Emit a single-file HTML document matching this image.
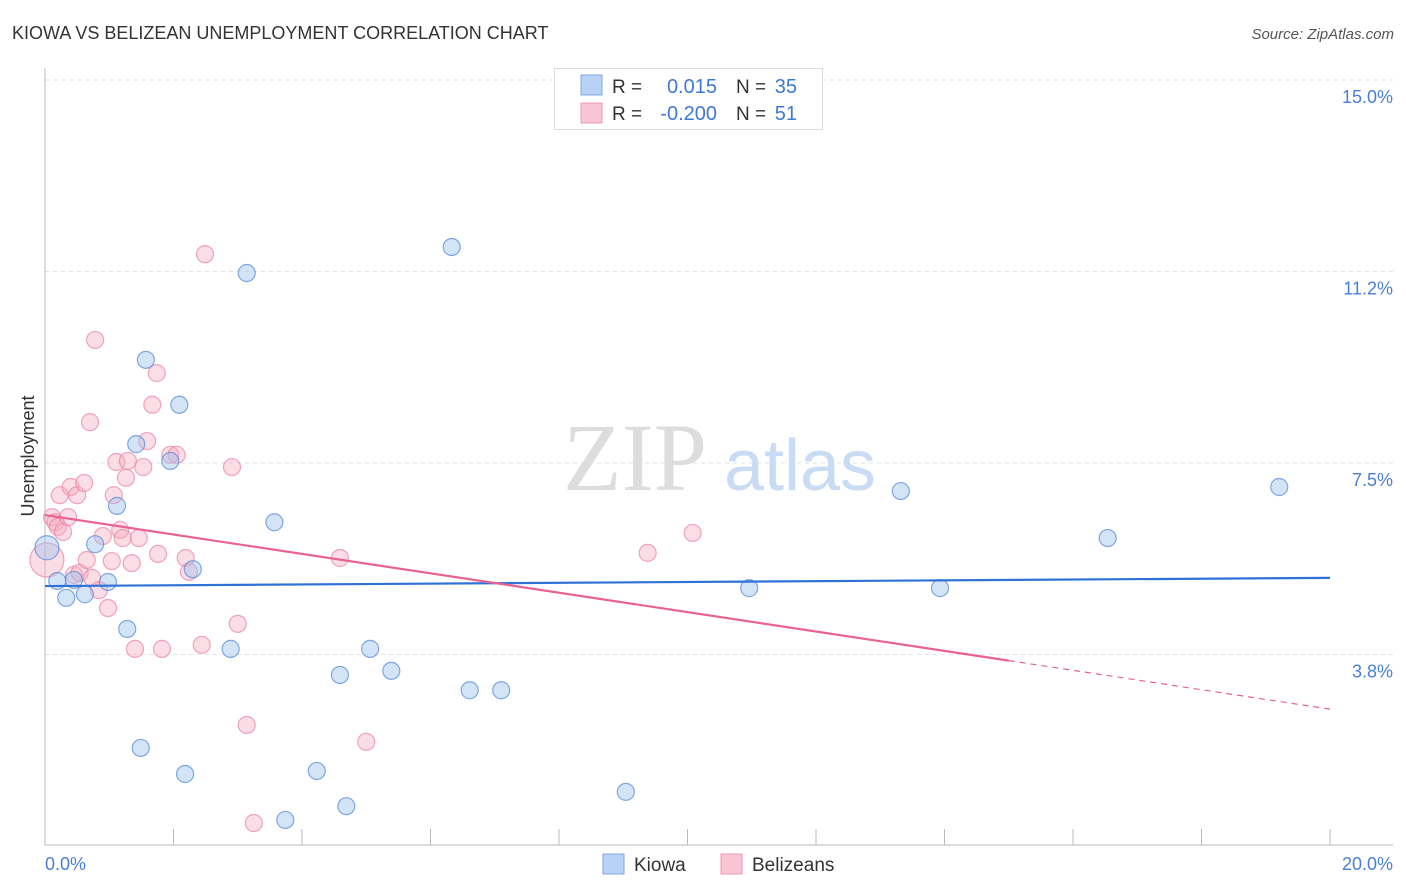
<!DOCTYPE html>
<html><head><meta charset="utf-8"><style>
body{margin:0;background:#fff;font-family:"Liberation Sans",sans-serif;}
svg{display:block}
</style></head><body>
<svg width="1406" height="892" xmlns="http://www.w3.org/2000/svg">
<text x="12" y="39" font-size="18" fill="#333">KIOWA VS BELIZEAN UNEMPLOYMENT CORRELATION CHART</text>
<text x="1394" y="39" font-size="15" fill="#555" font-style="italic" text-anchor="end">Source: ZipAtlas.com</text>
<g id="grid"></g>
<g>
<text x="635" y="490" font-family="Liberation Serif,serif" font-size="96" fill="#ddd" text-anchor="middle">ZIP</text>
<text x="800" y="490" font-size="72" fill="#c9dcf3" text-anchor="middle">atlas</text>
</g>
<line x1="45" y1="68" x2="45" y2="845" stroke="#bbb"/>
<line x1="45" y1="845" x2="1393" y2="845" stroke="#bbb"/>
<g id="xticks"></g>
<text x="45" y="870" font-size="18" fill="#4a7fd6">0.0%</text>
<text x="1393" y="870" font-size="18" fill="#4a7fd6" text-anchor="end">20.0%</text>
<text transform="translate(34,456) rotate(-90)" font-size="18" fill="#333" text-anchor="middle">Unemployment</text>
<g id="pts"></g>
<g id="trends"></g>
<g>
<rect x="554.5" y="68.5" width="268" height="61" fill="#fff" stroke="#ddd"/>
<rect x="581" y="75" width="21" height="20" fill="#b7d2f5" stroke="#7fa8e3"/>
<rect x="581" y="103" width="21" height="20" fill="#f9c5d4" stroke="#eb9ab3"/>
<text x="612" y="93" font-size="19" fill="#333">R =</text>
<text x="717" y="93" font-size="20" fill="#3f78d6" text-anchor="end">0.015</text>
<text x="736" y="93" font-size="19" fill="#333">N =</text>
<text x="797" y="93" font-size="20" fill="#3f78d6" text-anchor="end">35</text>
<text x="612" y="120" font-size="19" fill="#333">R =</text>
<text x="717" y="120" font-size="20" fill="#3f78d6" text-anchor="end">-0.200</text>
<text x="736" y="120" font-size="19" fill="#333">N =</text>
<text x="797" y="120" font-size="20" fill="#3f78d6" text-anchor="end">51</text>
</g>
<g>
<rect x="603" y="854" width="21" height="20" fill="#b7d2f5" stroke="#7fa8e3"/>
<text x="634" y="871" font-size="19" fill="#333">Kiowa</text>
<rect x="721" y="854" width="21" height="20" fill="#f9c5d4" stroke="#eb9ab3"/>
<text x="752" y="871" font-size="19" fill="#333">Belizeans</text>
</g>
</svg>
<script>
const yTicks=[3.75,7.5,11.25,15];
const yTickLabels=["3.8%","7.5%","11.2%","15.0%"];
const kiowaX=[0.03,0.19,0.33,0.45,0.62,0.78,0.98,1.12,1.28,1.42,1.49,1.57,1.95,2.09,2.18,2.30,2.89,3.14,3.57,3.74,4.23,4.59,4.69,5.06,5.39,6.33,6.61,7.10,9.04,10.96,13.32,13.93,16.54,19.21];
const kiowaY=[5.84,5.19,4.86,5.21,4.93,5.91,5.17,6.66,4.25,7.87,1.92,9.52,7.54,8.64,1.41,5.42,3.86,11.22,6.34,0.51,1.47,3.35,0.78,3.86,3.43,11.73,3.05,3.05,1.06,5.05,6.95,5.05,6.03,7.03];
const belX=[0.03,0.11,0.16,0.20,0.23,0.28,0.36,0.40,0.45,0.50,0.54,0.61,0.65,0.70,0.73,0.78,0.84,0.90,0.98,1.04,1.07,1.11,1.17,1.21,1.26,1.29,1.35,1.40,1.46,1.53,1.59,1.67,1.74,1.76,1.82,1.95,2.05,2.19,2.24,2.44,2.49,2.91,3.00,3.14,3.25,4.59,5.00,9.38,10.08];
const belY=[5.60,6.44,6.34,6.25,6.87,6.15,6.44,7.03,5.31,6.87,5.35,7.11,5.60,8.30,5.25,9.91,5.01,6.07,4.66,5.58,6.87,7.52,6.19,6.03,7.21,7.54,5.54,3.86,6.03,7.42,7.93,8.64,9.26,5.72,3.86,7.66,7.66,5.64,5.37,3.94,11.59,7.42,4.35,2.37,0.45,5.64,2.04,5.74,6.13];
const kiowaTrend=[5.09,5.25];
const belTrend=[6.48,2.68];
const belSolidEnd=15.0;
const xTicks=[0,2,4,6,8,10,12,14,16,18,20];
const NS="http://www.w3.org/2000/svg";
function sx(v){return 45+v/20*1285;}
function sy(v){return 846-v/3.75*191.5;}
function mk(t,a,p){const e=document.createElementNS(NS,t);for(const k in a)e.setAttribute(k,a[k]);p.appendChild(e);return e;}
const grid=document.getElementById('grid');
yTicks.forEach((t,i)=>{
 const l=mk('line',{x1:45,x2:1393,y1:sy(t),y2:sy(t),stroke:'#e2e2e2','stroke-dasharray':'4,4'},grid);
 
 
 const tx=mk('text',{x:1393,y:sy(t)+23,'font-size':18,fill:'#4a7fd6','text-anchor':'end'},grid);
 tx.textContent=yTickLabels[i];
 
 
});
const xt=document.getElementById('xticks');
xTicks.forEach(t=>{
 const l=mk('line',{x1:sx(t),x2:sx(t),y1:829,y2:845,stroke:'#bbb'},xt);
 
 
});
const pts=document.getElementById('pts');
belX.forEach((x,i)=>{
 const c=mk('circle',{cx:sx(x),cy:sy(belY[i]),r:i==0?17:8.5,fill:'rgba(244,170,192,0.4)',stroke:'rgba(233,130,162,0.7)','stroke-width':1.2},pts);
 
 
});
kiowaX.forEach((x,i)=>{
 const c=mk('circle',{cx:sx(x),cy:sy(kiowaY[i]),r:i==0?12:8.5,fill:'rgba(160,195,238,0.45)',stroke:'rgba(90,140,215,0.75)','stroke-width':1.2},pts);
 
 
});
const tr=document.getElementById('trends');
const kl=mk('line',{x1:sx(0),y1:sy(kiowaTrend[0]),x2:sx(20),y2:sy(kiowaTrend[1]),stroke:'#2f72d6','stroke-width':2.2},tr);


const bm=belTrend[0]+(belTrend[1]-belTrend[0])*belSolidEnd/20;
const bl=mk('line',{x1:sx(0),y1:sy(belTrend[0]),x2:sx(belSolidEnd),y2:sy(bm),stroke:'#e8638f','stroke-width':2.2},tr);


const bd=mk('line',{x1:sx(belSolidEnd),y1:sy(bm),x2:sx(20),y2:sy(belTrend[1]),stroke:'#e8638f','stroke-width':1.2,'stroke-dasharray':'6,5'},tr);


</script>
</body></html>
